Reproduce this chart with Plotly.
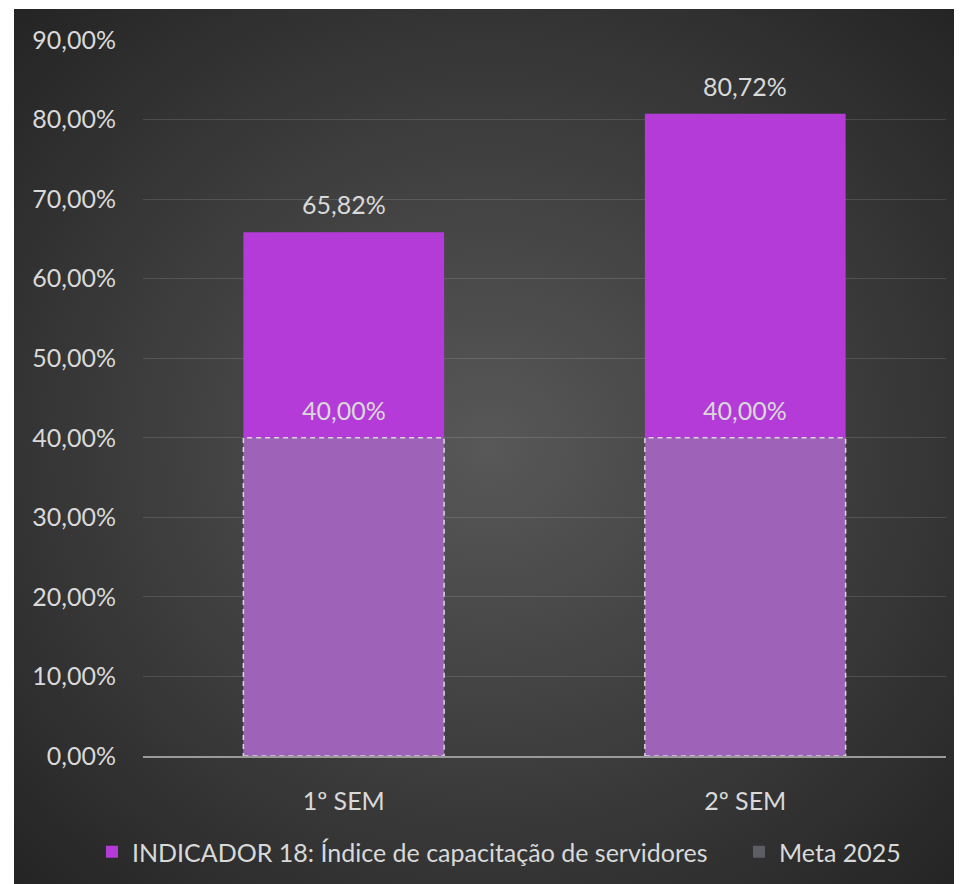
import base64
import plotly.graph_objects as go

categories = ["1º SEM", "2º SEM"]
indicador = [65.82, 80.72]
meta = [40.00, 40.00]
y_ticks = [0, 10, 20, 30, 40, 50, 60, 70, 80, 90]
y_tick_labels = [f"{v:.2f}".replace(".", ",") + "%" for v in y_ticks]
series_names = ["INDICADOR 18: Índice de capacitação de servidores", "Meta 2025"]


def pct(v):
    return f"{v:.2f}".replace(".", ",") + "%"


# page body has an 8px margin, so the figure is laid out in shifted coordinates
OFF = 8
W, H = 962 - OFF, 884 - OFF
L, T = 143 - OFF, 40 - OFF
R = W - (946 - OFF)
B = H - (756 - OFF)
pw, ph = W - L - R, H - T - B

svg = '''<svg xmlns="http://www.w3.org/2000/svg" width="948" height="875" viewBox="0 0 948 875" preserveAspectRatio="none">
<defs><radialGradient id="g" cx="50%" cy="50%" r="72%">
<stop offset="0%" stop-color="#585858"/><stop offset="100%" stop-color="#232323"/></radialGradient></defs>
<rect width="948" height="875" fill="url(#g)"/></svg>'''
bg_uri = "data:image/svg+xml;base64," + base64.b64encode(svg.encode()).decode()

FONT = "Lato"
TXT = "#D9D9D9"
FS = 25
bar_width = 0.5

fig = go.Figure()
fig.add_trace(go.Bar(
    x=categories, y=indicador, name=series_names[0], legend="legend",
    marker=dict(color="#B53BD8", line=dict(width=0)), width=bar_width,
))
fig.add_trace(go.Bar(
    x=categories, y=meta, name=series_names[1], legend="legend2",
    marker=dict(color="rgba(135,140,152,0.5)", line=dict(width=0)), width=bar_width,
))

shapes = []
for i, v in enumerate(meta):
    shapes.append(dict(type="rect", xref="x", yref="y",
                       x0=i - bar_width / 2, x1=i + bar_width / 2, y0=0, y1=v,
                       line=dict(color="#D8D8D8", width=1.5, dash="5px,4px"),
                       fillcolor="rgba(0,0,0,0)", layer="above"))

annotations = []
for series in (indicador, meta):
    for c, v in zip(categories, series):
        annotations.append(dict(x=c, y=v, xref="x", yref="y", text=pct(v),
                                showarrow=False, yanchor="bottom", yshift=11,
                                font=dict(size=FS, color=TXT, family=FONT)))

legend_common = dict(orientation="h", xref="container", yref="container",
                     xanchor="left", y=1 - (852 - OFF) / H, yanchor="middle",
                     font=dict(size=FS, color=TXT, family=FONT),
                     bgcolor="rgba(0,0,0,0)", itemwidth=30)

fig.update_layout(
    width=W, height=H,
    margin=dict(l=L, r=R, t=T, b=B),
    paper_bgcolor="#ffffff", plot_bgcolor="rgba(0,0,0,0)",
    barmode="overlay",
    font=dict(family=FONT, color=TXT, size=FS),
    showlegend=True,
    legend=dict(x=84 / W, **legend_common),
    legend2=dict(x=731 / W, **legend_common),
    shapes=shapes,
    annotations=annotations,
    images=[dict(source=bg_uri, xref="paper", yref="paper",
                 x=(14 - 143) / pw, y=(756 - 9) / ph,
                 sizex=948 / pw, sizey=875 / ph,
                 xanchor="left", yanchor="top", sizing="stretch", layer="below")],
)
fig.update_yaxes(range=[0, 90], tickvals=y_ticks, ticktext=y_tick_labels,
                 showgrid=True, gridcolor="rgba(255,255,255,0.13)", gridwidth=1.2,
                 zeroline=False, showline=False, ticks="", ticklabelstandoff=26,
                 tickfont=dict(size=FS, color=TXT, family=FONT))
fig.update_xaxes(showline=True, linecolor="#9a9a9a", linewidth=2, ticks="",
                 ticklabelstandoff=22, tickfont=dict(size=FS, color=TXT, family=FONT))

fig.write_html("out.html")
